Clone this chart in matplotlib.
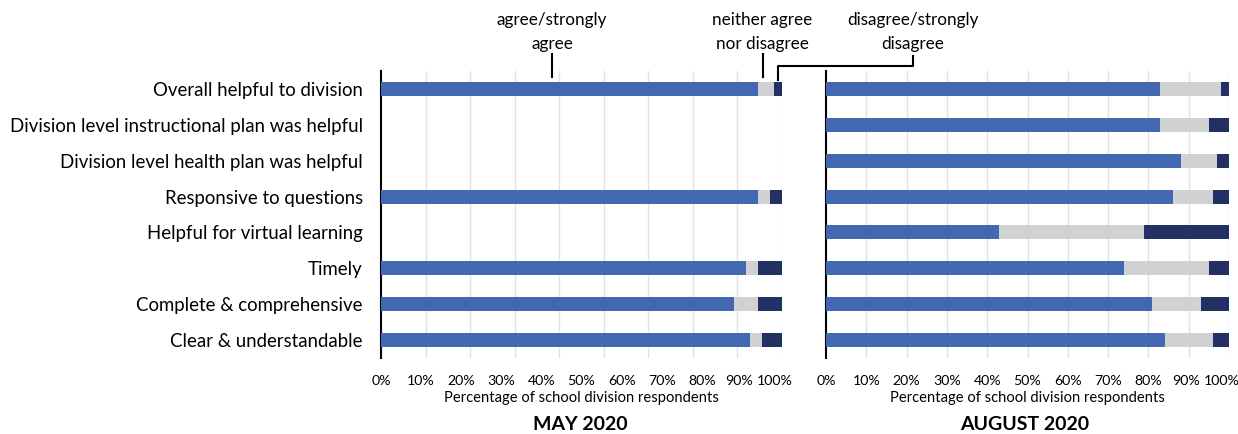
import numpy as np
import matplotlib
matplotlib.use("Agg")
import matplotlib.pyplot as plt
import matplotlib.transforms as mtransforms
from matplotlib.ticker import FixedLocator

plt.rcParams['font.family'] = ['Lato', 'DejaVu Sans']

categories = ["Overall helpful to division",
              "Division level instructional plan was helpful",
              "Division level health plan was helpful",
              "Responsive to questions",
              "Helpful for virtual learning",
              "Timely",
              "Complete & comprehensive",
              "Clear & understandable"]

may_agree    = [94, np.nan, np.nan, 94, np.nan, 91, 88, 92]
may_neither  = [4,  np.nan, np.nan, 3,  np.nan, 3,  6,  3]
may_disagree = [2,  np.nan, np.nan, 3,  np.nan, 6,  6,  5]

aug_agree    = [83, 83, 88, 86, 43, 74, 81, 84]
aug_neither  = [15, 12, 9, 10, 36, 21, 12, 12]
aug_disagree = [2,  5,  3,  4,  21, 5,  7,  4]

tick_vals = [0, 10, 20, 30, 40, 50, 60, 70, 80, 90, 100]
tick_labels = ["0%", "10%", "20%", "30%", "40%", "50%", "60%", "70%", "80%", "90%", "100%"]

C_AGREE = "#4168b1"
C_NEITHER = "#d0d1d3"
C_DIS = "#223063"

W, H = 1238, 434
fig = plt.figure(figsize=(W/100, H/100), dpi=100)

def px(x0, x1, y0, y1):
    return [x0/W, 1 - y1/H, (x1-x0)/W, (y1-y0)/H]

ax1 = fig.add_axes(px(381, 782, 71, 358))
ax2 = fig.add_axes(px(826, 1229, 71, 358))

y = np.arange(len(categories))
bh = 0.39

def shift(lbl, dx):
    lbl.set_transform(lbl.get_transform() + mtransforms.ScaledTranslation(dx/100, 0, fig.dpi_scale_trans))

def draw(ax, a, n, d, grid_pos):
    a = np.array(a, float); n = np.array(n, float); d = np.array(d, float)
    ax.barh(y, a, height=bh, color=C_AGREE, zorder=3)
    ax.barh(y, n, left=a, height=bh, color=C_NEITHER, zorder=3)
    ax.barh(y, d, left=a + n, height=bh, color=C_DIS, zorder=3)
    ax.set_xlim(0, 100)
    ax.set_ylim(len(categories) - 0.5, -0.5)
    ax.set_xticks(tick_vals)
    ax.set_xticklabels(tick_labels, fontsize=10.2)
    ax.xaxis.remove_overlapping_locs = False
    ax.xaxis.set_minor_locator(FixedLocator(grid_pos))
    ax.grid(False)
    ax.grid(axis='x', which='minor', color='#e2e2e2', linewidth=1, zorder=0)
    ax.tick_params(axis='x', which='both', length=0, pad=12)
    for s in ['top', 'right', 'bottom']:
        ax.spines[s].set_visible(False)
    ax.spines['left'].set_linewidth(1.5)
    ax.spines['left'].set_color('black')
    ax.set_xlabel("Percentage of school division respondents", fontsize=10.6, labelpad=3)
    labels = ax.get_xticklabels()
    shift(labels[-2], -2.5)
    shift(labels[-1], -7)

draw(ax1, may_agree, may_neither, may_disagree, list(np.linspace(0, 100, 10))[1:])
draw(ax2, aug_agree, aug_neither, aug_disagree, tick_vals[1:])

ax1.set_yticks(y)
ax1.set_yticklabels(categories, fontsize=13.4)
ax1.tick_params(axis='y', length=0, pad=13)
ax2.set_yticks([])

fig.text(580/W, 1 - 424/H, "MAY 2020", ha='center', va='center', fontsize=14, fontweight='bold')
fig.text(1025/W, 1 - 424/H, "AUGUST 2020", ha='center', va='center', fontsize=14, fontweight='bold')

# annotations
fs = 12.3
fig.text(552/W, 1 - 32/H, "agree/strongly\nagree", ha='center', va='center', fontsize=fs, linespacing=1.6)
fig.text(762/W, 1 - 32/H, "neither agree\nnor disagree", ha='center', va='center', fontsize=fs, linespacing=1.6)
fig.text(913/W, 1 - 32/H, "disagree/strongly\ndisagree", ha='center', va='center', fontsize=fs, linespacing=1.6)

def line(xs, ys):
    fig.add_artist(plt.Line2D([v/W for v in xs], [1 - v/H for v in ys], color='black', linewidth=1.5))

line([552, 552], [54, 77])
line([763, 763], [54, 77])
line([913, 913, 778, 778], [56, 66, 66, 80])

fig.savefig("out.png", dpi=100)
